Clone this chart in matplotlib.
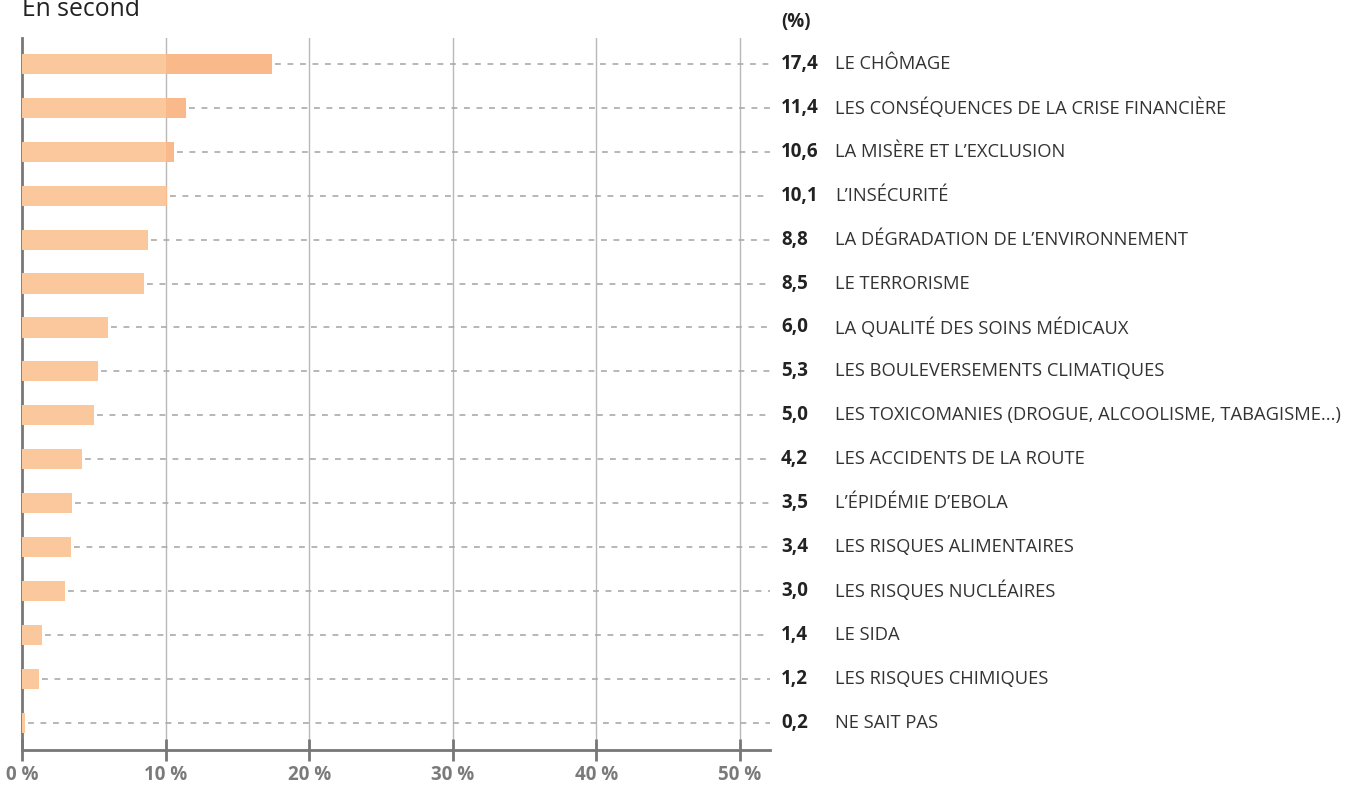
import matplotlib
matplotlib.use("Agg")
import matplotlib.pyplot as plt

categories = ["LE CHÔMAGE", "LES CONSÉQUENCES DE LA CRISE FINANCIÈRE", "LA MISÈRE ET L’EXCLUSION",
              "L’INSÉCURITÉ", "LA DÉGRADATION DE L’ENVIRONNEMENT", "LE TERRORISME",
              "LA QUALITÉ DES SOINS MÉDICAUX", "LES BOULEVERSEMENTS CLIMATIQUES",
              "LES TOXICOMANIES (DROGUE, ALCOOLISME, TABAGISME...)", "LES ACCIDENTS DE LA ROUTE",
              "L’ÉPIDÉMIE D’EBOLA", "LES RISQUES ALIMENTAIRES", "LES RISQUES NUCLÉAIRES",
              "LE SIDA", "LES RISQUES CHIMIQUES", "NE SAIT PAS"]
values = [17.4, 11.4, 10.6, 10.1, 8.8, 8.5, 6.0, 5.3, 5.0, 4.2, 3.5, 3.4, 3.0, 1.4, 1.2, 0.2]
value_labels = ["17,4", "11,4", "10,6", "10,1", "8,8", "8,5", "6,0", "5,3", "5,0", "4,2",
                "3,5", "3,4", "3,0", "1,4", "1,2", "0,2"]
xticks = [0, 10, 20, 30, 40, 50]
xtick_labels = ["0 %", "10 %", "20 %", "30 %", "40 %", "50 %"]

plt.rcParams['font.family'] = ['Open Sans', 'DejaVu Sans']

W, H = 1346, 787
fig = plt.figure(figsize=(W / 100, H / 100), dpi=100)
ax_left, ax_right = 22 / W, 770 / W
ax_top, ax_bot = 38 / H, 750 / H
ax = fig.add_axes([ax_left, 1 - ax_bot, ax_right - ax_left, ax_bot - ax_top])

xmax = 50 * (770 - 22) / (740 - 22)
ax.set_xlim(0, xmax)
n = len(values)
ax.set_ylim(15.62, -0.59)

light = "#FBC89E"
dark = "#F9B98A"
ys = list(range(n))
for y, v in zip(ys, values):
    ax.barh(y, min(v, 10), height=0.46, color=light, zorder=3, linewidth=0)
    if v > 10:
        ax.barh(y, v - 10, left=10, height=0.46, color=dark, zorder=3, linewidth=0)
    ax.plot([v + 0.2, xmax], [y, y], color="#AAAAAA", lw=1.2, ls=(0, (3.5, 4)), zorder=2)

for x in xticks[1:]:
    ax.axvline(x, color="#B8B8B8", lw=1.0, zorder=1)

for s in ["top", "right"]:
    ax.spines[s].set_visible(False)
ax.spines["left"].set_color("#777777")
ax.spines["left"].set_linewidth(2)
ax.spines["bottom"].set_color("#777777")
ax.spines["bottom"].set_linewidth(2)
ax.set_yticks([])
ax.set_xticks(xticks)
ax.set_xticklabels(xtick_labels, fontsize=13.5, fontweight="bold", color="#7A7A7A")
ax.tick_params(axis="x", direction="inout", length=16, width=2, color="#777777", pad=3)

for y, lab, cat in zip(ys, value_labels, categories):
    ax.annotate(lab, xy=(1, y), xycoords=("axes fraction", "data"), xytext=(11, 0),
                textcoords="offset pixels", ha="left", va="center", fontsize=13.5,
                fontweight="bold", color="#222222")
    ax.annotate(cat, xy=(1, y), xycoords=("axes fraction", "data"), xytext=(65, 0),
                textcoords="offset pixels", ha="left", va="center", fontsize=13.2,
                color="#333333")

fig.text(781 / W, 1 - 22 / H, "(%)", fontsize=13.5, fontweight="bold", color="#222222",
         ha="left", va="center")
fig.text(22 / W, 1 - 10 / H, "En second", fontsize=17.8, color="#222222", ha="left", va="center")

fig.savefig("out.png", dpi=100)
